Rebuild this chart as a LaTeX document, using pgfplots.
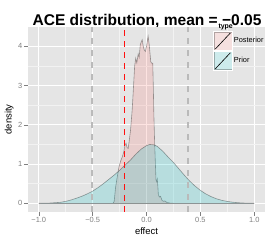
\documentclass[border=0pt]{standalone}
\usepackage{pgfplots}
\pgfplotsset{compat=1.18}
\usepackage{fontspec}
\setmainfont{Liberation Sans}
\definecolor{panelgray}{HTML}{E5E5E5}
\definecolor{gridminor}{HTML}{F2F2F2}
\definecolor{ticklab}{HTML}{7F7F7F}
\definecolor{ggred}{HTML}{F8766D}
\definecolor{ggteal}{HTML}{00BFC4}
\definecolor{vgrey}{HTML}{BABABA}
\definecolor{vred}{HTML}{FF1010}
\begin{document}
\begin{tikzpicture}
\useasboundingbox (0bp,0bp) rectangle (277bp,241bp);
\node[anchor=base, font=\bfseries\fontsize{15.6}{18}\selectfont] at (147bp,215bp) {ACE distribution, mean = −0.05};
\begin{axis}[
 at={(28bp,29.3bp)}, anchor=south west, scale only axis,
 width=237bp, height=184.7bp,
 xmin=-1.1, xmax=1.1, ymin=-0.214, ymax=4.494,
 axis background/.style={fill=panelgray},
 axis line style={draw=none},
 xtick={-1,-0.5,0,0.5,1},
 xticklabels={−1.0,−0.5,0.0,0.5,1.0},
 ytick={0,1,2,3,4},
 yticklabels={0,1,2,3,4},
 minor xtick={-0.75,-0.25,0.25,0.75},
 minor ytick={0.5,1.5,2.5,3.5},
 grid=both,
 major grid style={white, line width=0.9bp},
 minor grid style={gridminor, line width=0.45bp},
 tick align=outside,
 major tick length=4bp, minor tick length=0bp,
 tick style={ticklab, line width=0.5bp},
 xtick pos=bottom, ytick pos=left,
 ticklabel style={font=\fontsize{7.5}{8}\selectfont, text=ticklab},
 xticklabel style={inner sep=1.5bp},
 yticklabel style={inner sep=1.5bp},
 xlabel={effect}, ylabel={density},
 label style={font=\fontsize{9.5}{10}\selectfont},
 xlabel style={at={(0.5,0)}, anchor=north, yshift=-12bp},
 ylabel style={at={(0,0.5)}, anchor=south, yshift=11bp},
 legend style={at={(rel axis cs:0.7805,0.978)}, anchor=north west, draw=none, fill=none,
   font=\fontsize{7.4}{9}\selectfont, row sep=0pt, inner sep=0pt, outer sep=0pt,
   nodes={inner sep=1.2bp}},
 legend cell align=left,
 legend image code/.code={
   \fill[gridminor, fill opacity=1] (0bp,-9.5bp) rectangle (19bp,9.5bp);
   \fill (0.5bp,-9bp) rectangle (18.5bp,9bp);
   \draw[white, draw opacity=1, line width=0.8bp] (0bp,-9.5bp) rectangle (19bp,9.5bp);
   \draw[black, draw opacity=1, line width=0.6bp] (2bp,-8bp) -- (17bp,8bp);
 },
]
\addplot[fill=ggred, fill opacity=0.2, draw=black, draw opacity=0.35, line width=0.6bp] coordinates {
(-1,0) (-0.31,0) (-0.3,0.05) (-0.287,0.41) (-0.27,0.7) (-0.256,0.92) (-0.24,1.08) (-0.225,1.18)
(-0.21,1.32) (-0.2,1.48) (-0.19,1.53) (-0.18,1.42) (-0.17,1.40) (-0.16,1.6) (-0.148,1.87)
(-0.133,2.38) (-0.12,3.0) (-0.11,3.5) (-0.10,3.70) (-0.09,3.58) (-0.077,3.81) (-0.068,3.72)
(-0.058,4.04) (-0.048,4.12) (-0.04,4.17) (-0.03,4.0) (-0.02,3.9) (-0.01,3.87) (0.0,4.0)
(0.015,4.26) (0.025,4.05) (0.031,3.87) (0.04,3.6) (0.05,3.57) (0.058,3.57) (0.063,3.0)
(0.068,2.3) (0.075,1.6) (0.08,1.2) (0.088,0.6) (0.095,0.55) (0.1,0.62) (0.105,0.45)
(0.11,0.22) (0.12,0.16) (0.13,0.18) (0.145,0.07) (0.16,0.05) (0.17,0.06) (0.19,0.02)
(0.22,0.005) (0.25,0) (1,0)
} \closedcycle;
\addlegendentry{Posterior}
\addplot[fill=ggteal, fill opacity=0.2, draw=black, draw opacity=0.35, line width=0.6bp] coordinates {
(-1,0) (-0.9,0.006) (-0.8,0.025) (-0.75,0.05) (-0.7,0.085) (-0.65,0.13) (-0.6,0.18)
(-0.55,0.24) (-0.5,0.31) (-0.45,0.40) (-0.4,0.50) (-0.35,0.61) (-0.3,0.72) (-0.25,0.84)
(-0.2,0.97) (-0.15,1.1) (-0.1,1.25) (-0.05,1.38) (0,1.47) (0.03,1.5) (0.07,1.49) (0.1,1.45)
(0.15,1.33) (0.2,1.18) (0.25,1.04) (0.3,0.88) (0.35,0.72) (0.4,0.57) (0.45,0.44) (0.5,0.33)
(0.55,0.24) (0.6,0.17) (0.65,0.115) (0.7,0.075) (0.75,0.048) (0.8,0.028) (0.85,0.015)
(0.9,0.007) (0.95,0.003) (1,0)
} \closedcycle;
\addlegendentry{Prior}
\addplot[forget plot, vgrey, line width=1.8bp, dash pattern=on 6bp off 6bp] coordinates {(-0.509,-0.214) (-0.509,4.494)};
\addplot[forget plot, vgrey, line width=1.8bp, dash pattern=on 6bp off 6bp] coordinates {(0.388,-0.214) (0.388,4.494)};
\addplot[forget plot, vred, line width=1.5bp, dash pattern=on 6bp off 5bp] coordinates {(-0.2043,-0.214) (-0.2043,4.494)};
\end{axis}
\node[anchor=base west, font=\bfseries\fontsize{7}{8}\selectfont] at (215bp,212bp) {type};
\end{tikzpicture}
\end{document}
